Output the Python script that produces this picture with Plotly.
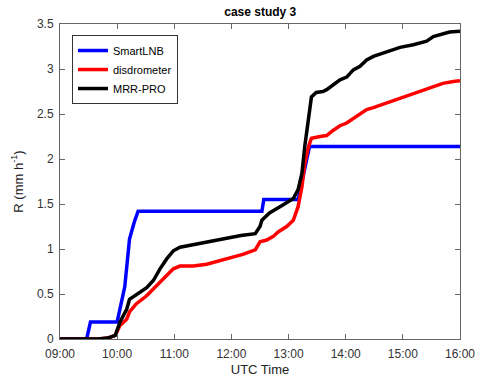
import plotly.graph_objects as go
import pandas as pd

DAY = "2020-01-01 "

lnb_t = ["09:00", "09:28", "09:32", "10:00", "10:08", "10:13", "10:18", "10:22",
         "12:32", "12:34", "13:10", "13:22", "16:00"]
lnb_v = [0, 0, 0.19, 0.19, 0.58, 1.11, 1.30, 1.42, 1.42, 1.55, 1.55, 2.14, 2.14]

dis_t = ["09:00", "09:40", "09:50", "09:58", "10:03", "10:10", "10:13", "10:20", "10:31",
         "10:41", "10:52", "10:59", "11:06", "11:20", "11:34", "11:52", "12:12", "12:25",
         "12:30", "12:37", "12:44", "12:49", "12:58", "13:05", "13:10", "13:14", "13:17",
         "13:21", "13:24", "13:33", "13:40", "13:47", "13:54", "14:01", "14:08", "14:15",
         "14:22", "14:29", "14:43", "14:57", "15:11", "15:25", "15:32", "15:42", "15:53", "16:00"]
dis_v = [0, 0, 0.01, 0.04, 0.15, 0.22, 0.30, 0.39, 0.48,
         0.59, 0.70, 0.78, 0.81, 0.81, 0.83, 0.88, 0.94, 0.99,
         1.08, 1.10, 1.14, 1.19, 1.25, 1.32, 1.47, 1.69, 1.95,
         2.14, 2.23, 2.25, 2.26, 2.32, 2.37, 2.40, 2.45, 2.49,
         2.55, 2.57, 2.62, 2.67, 2.72, 2.77, 2.80, 2.84, 2.86, 2.87]

mrr_t = ["09:00", "09:40", "09:50", "09:58", "10:03", "10:10", "10:13", "10:20", "10:31",
         "10:38", "10:45", "10:52", "10:59", "11:06", "11:16", "11:27", "11:44", "11:52",
         "12:10", "12:25", "12:30", "12:32", "12:40", "12:54", "13:05", "13:10", "13:14",
         "13:17", "13:21", "13:24", "13:29", "13:36", "13:40", "13:47", "13:54", "14:01",
         "14:08", "14:15", "14:22", "14:29", "14:43", "14:57", "15:11", "15:25", "15:32",
         "15:42", "15:49", "16:00"]
mrr_v = [0, 0, 0.01, 0.04, 0.19, 0.33, 0.44, 0.49, 0.57,
         0.65, 0.78, 0.89, 0.98, 1.02, 1.04, 1.06, 1.09, 1.11,
         1.15, 1.17, 1.25, 1.32, 1.40, 1.49, 1.56, 1.66, 1.84,
         2.14, 2.47, 2.69, 2.74, 2.75, 2.77, 2.82, 2.88, 2.91,
         2.99, 3.03, 3.10, 3.14, 3.19, 3.24, 3.27, 3.31, 3.36,
         3.39, 3.41, 3.42]

x_ticks = ["09:00", "10:00", "11:00", "12:00", "13:00", "14:00", "15:00", "16:00"]
y_ticks = [0, 0.5, 1, 1.5, 2, 2.5, 3, 3.5]

FONT = "Liberation Sans, Arial"


def ts(lst):
    return pd.to_datetime([DAY + t for t in lst])


fig = go.Figure()
for name, t, v, c in [("SmartLNB", lnb_t, lnb_v, "#0000ff"),
                      ("disdrometer", dis_t, dis_v, "#ff0000"),
                      ("MRR-PRO", mrr_t, mrr_v, "#000000")]:
    fig.add_trace(go.Scatter(x=ts(t), y=v, mode="lines", name=name,
                             line=dict(color=c, width=3.5)))

axis_common = dict(showline=True, linecolor="#666666", linewidth=1, mirror="ticks",
                   ticks="inside", ticklen=5, tickcolor="#666666", showgrid=False,
                   zeroline=False, automargin=False,
                   tickfont=dict(family=FONT, size=12, color="#333333"))

fig.update_xaxes(range=[ts(["09:00"])[0], ts(["16:00"])[0]],
                 tickvals=ts(x_ticks), ticktext=x_ticks, ticklabelstandoff=4,
                 title=dict(text="UTC Time", standoff=4,
                            font=dict(family=FONT, size=13, color="#222222")),
                 **axis_common)
fig.update_yaxes(range=[0, 3.5], tickvals=y_ticks,
                 ticktext=[("%g" % v) for v in y_ticks], ticklabelstandoff=3,
                 title=dict(text="R (mm h<sup>-1</sup>)", standoff=10,
                            font=dict(family=FONT, size=13, color="#222222")),
                 **axis_common)

fig.update_layout(
    width=482, height=378,
    margin=dict(l=60, r=22, t=24, b=39),
    plot_bgcolor="white", paper_bgcolor="white",
    title=dict(text="<b>case study 3</b>", x=0.54, xanchor="center",
               y=1 - 12 / 378, yanchor="middle", yref="container", automargin=False,
               font=dict(family=FONT, size=12, color="#000000")),
    legend=dict(x=0.03, y=0.965, xanchor="left", yanchor="top",
                bordercolor="#333333", borderwidth=1, bgcolor="white",
                font=dict(family=FONT, size=11, color="#000000"),
                tracegroupgap=0, itemwidth=30),
    showlegend=True,
)

fig.write_html("out.html", config={"displayModeBar": False},
               post_script="document.body.style.margin='0';document.body.style.overflow='hidden';")
